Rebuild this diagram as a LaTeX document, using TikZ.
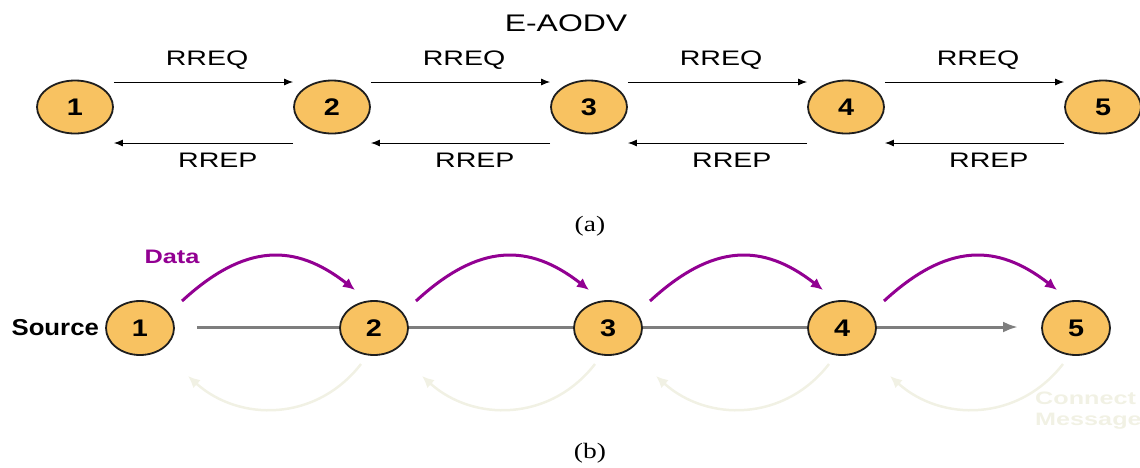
\documentclass[tikz,border=0pt]{standalone}
\usepackage{fontspec}
\setmainfont{Liberation Sans}
\newfontfamily\capfont{Liberation Serif}
\usetikzlibrary{shapes.geometric,arrows.meta}
\definecolor{nodefill}{HTML}{F8C261}
\definecolor{nodeline}{HTML}{1E1E1E}
\definecolor{datapurple}{HTML}{920092}
\definecolor{faintcol}{HTML}{F1F1E4}
\definecolor{linegray}{HTML}{7E7E7E}
\newcommand{\hs}[2]{\scalebox{#1}[1]{#2}}
\tikzset{
  topnode/.style={ellipse, draw=nodeline, line width=1.8pt, fill=nodefill, minimum width=76pt, minimum height=53pt, inner sep=0pt, font=\fontsize{24}{24}\selectfont\bfseries},
  botnode/.style={ellipse, draw=nodeline, line width=1.8pt, fill=nodefill, minimum width=68pt, minimum height=54pt, inner sep=0pt, font=\fontsize{24}{24}\selectfont\bfseries},
  msgarrow/.style={line width=1pt, -{Latex[length=9pt,width=7pt]}},
  toplabel/.style={font=\fontsize{21}{21}\selectfont, inner sep=0pt},
  dataarc/.style={datapurple, line width=3pt, -{Latex[length=12pt,width=11pt]}},
  faintarc/.style={faintcol, line width=2.5pt, -{Latex[length=12pt,width=11pt]}},
  pathline/.style={linegray, line width=3pt, -{Latex[length=15pt,width=11pt]}},
  caption/.style={font=\capfont\fontsize{22}{22}\selectfont, inner sep=0pt}
}
\begin{document}
\begin{tikzpicture}[x=1pt,y=-1pt]
\useasboundingbox (0,0) rectangle (1140,467);
\clip (0,0) rectangle (1140,467);

% ---------- (a) ----------
\node[toplabel, font=\fontsize{24}{24}\selectfont] (title) at (566,23) {\hs{1.33}{E-AODV}};
\foreach \i/\x in {1/75,2/332,3/589,4/846,5/1103}{
  \node[topnode] (a\i) at (\x,107) {\hs{1.2}{\i}};
}
\foreach \i/\j in {1/2,2/3,3/4,4/5}{
  \draw[msgarrow] ([yshift=25pt]a\i.east) -- ([yshift=25pt]a\j.west)
    node[toplabel, pos=0.52, above=12pt] (rreq\i) {\hs{1.36}{RREQ}};
  \draw[msgarrow] ([yshift=-36pt]a\j.west) -- ([yshift=-36pt]a\i.east)
    node[toplabel, pos=0.42, below=10pt] (rrep\i) {\hs{1.36}{RREP}};
}
\node[caption] (capa) at (590,226) {\hs{1.25}{(a)}};

% ---------- (b) ----------
\coordinate (pstart) at (197,327);
\coordinate (pend) at (1018,327);
\draw[pathline] (pstart) -- (pend);
\foreach \i/\x in {1/140,2/374,3/608,4/842,5/1076}{
  \node[botnode] (b\i) at (\x,328) {\hs{1.2}{\i}};
}
\node[font=\fontsize{23}{23}\selectfont\bfseries, anchor=east, inner sep=0pt] (src) at ([xshift=-6pt]b1.west) {\hs{1.12}{Source}};
\node[font=\fontsize{19.5}{19.5}\selectfont\bfseries, text=datapurple, inner sep=0pt] (datalbl) at (172,257) {\hs{1.3}{Data}};

\foreach \i/\j in {1/2,2/3,3/4,4/5}{
  \draw[dataarc] ([xshift=42pt,yshift=27pt]b\i.center)
    .. controls ([xshift=105pt,yshift=85pt]b\i.center) and ([xshift=155pt,yshift=85pt]b\i.center)
    .. ([xshift=-19pt,yshift=38pt]b\j.center);
  \draw[faintarc] ([xshift=-13pt,yshift=-36pt]b\j.center)
    .. controls ([xshift=-58pt,yshift=-94pt]b\j.center) and ([xshift=-135pt,yshift=-94pt]b\j.center)
    .. ([xshift=48pt,yshift=-48pt]b\i.center);
}
\node[font=\fontsize{18}{18}\selectfont\bfseries, text=faintcol, anchor=west, inner sep=0pt] (conn) at (1035,398) {\hs{1.4}{Connect}};
\node[font=\fontsize{18}{18}\selectfont\bfseries, text=faintcol, anchor=west, inner sep=0pt] (msg) at (1035,421) {\hs{1.4}{Message}};
\node[caption] (capb) at (590,453) {\hs{1.25}{(b)}};
\end{tikzpicture}
\end{document}
